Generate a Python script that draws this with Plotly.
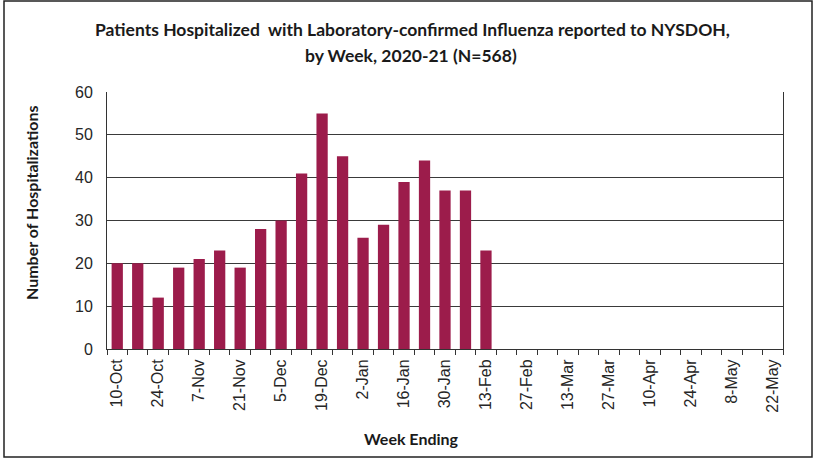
import plotly.graph_objects as go

weeks = ["10-Oct", "17-Oct", "24-Oct", "31-Oct", "7-Nov", "14-Nov", "21-Nov", "28-Nov",
         "5-Dec", "12-Dec", "19-Dec", "26-Dec", "2-Jan", "9-Jan", "16-Jan", "23-Jan",
         "30-Jan", "6-Feb", "13-Feb", "20-Feb", "27-Feb", "6-Mar", "13-Mar", "20-Mar",
         "27-Mar", "3-Apr", "10-Apr", "17-Apr", "24-Apr", "1-May", "8-May", "15-May", "22-May"]
hospitalizations = [20, 20, 12, 19, 21, 23, 19, 28, 30, 41, 55, 45, 26, 29, 39, 44, 37, 37, 23,
                    None, None, None, None, None, None, None, None, None, None, None, None, None, None]
tick_labels = [w if i % 2 == 0 else "" for i, w in enumerate(weeks)]

W, H = 817, 461
L, R, T, B = 107, 783, 92, 349  # plot area in px

def px_x(px):
    return (px - L) / (R - L)

def px_y(py):
    return (B - py) / (B - T)

X_TICK_FONT = dict(family="Liberation Sans, Arial, sans-serif", size=16, color="#262626")
Y_TICK_FONT = dict(family="Liberation Sans, Arial, sans-serif", size=16, color="#262626")

fig = go.Figure()
fig.add_trace(go.Bar(
    x=weeks, y=hospitalizations,
    marker=dict(color="#9C1C4B", line=dict(width=0)),
    hoverinfo="x+y",
))

fig.update_layout(
    width=W, height=H,
    margin=dict(l=L, r=W - R, t=T, b=H - B, pad=0),
    paper_bgcolor="white", plot_bgcolor="white",
    bargap=0.45,
    showlegend=False,
    font=dict(family="Liberation Sans", color="#262626"),
)
fig.update_xaxes(
    type="category",
    categoryorder="array", categoryarray=weeks,
    tickmode="array", tickvals=weeks, ticktext=tick_labels,
    tickson="boundaries", ticks="outside", ticklen=5, tickcolor="#333333", tickwidth=1,
    tickangle=-90, tickfont=X_TICK_FONT, ticklabelstandoff=3,
    showline=True, linecolor="#333333", linewidth=1,
    showgrid=False, range=[-0.5, len(weeks) - 0.5],
)
fig.update_yaxes(
    range=[0, 60], dtick=10, tick0=0,
    showgrid=True, gridcolor="#3a3a3a", gridwidth=1,
    showline=True, linecolor="#333333", linewidth=1, mirror=True,
    ticks="", ticklabelstandoff=10,
    tickfont=Y_TICK_FONT,
    zeroline=False,
)

annotations = [
    dict(text="<b>Patients Hospitalized  with Laboratory-confirmed Influenza reported to NYSDOH,</b>",
         x=px_x(412), y=px_y(30), xref="paper", yref="paper", showarrow=False,
         xanchor="center", yanchor="middle",
         font=dict(family="Lato", size=17.5, color="#1a1a1a")),
    dict(text="<b>by Week, 2020-21 (N=568)</b>",
         x=px_x(411), y=px_y(55), xref="paper", yref="paper", showarrow=False,
         xanchor="center", yanchor="middle",
         font=dict(family="Lato", size=17.5, color="#1a1a1a")),
    dict(text="<b>Number of Hospitalizations</b>",
         x=px_x(31), y=px_y(203), xref="paper", yref="paper", showarrow=False,
         xanchor="center", yanchor="middle", textangle=-90,
         font=dict(family="Lato", size=16, color="#1a1a1a")),
    dict(text="<b>Week Ending</b>",
         x=px_x(411), y=px_y(438), xref="paper", yref="paper", showarrow=False,
         xanchor="center", yanchor="middle",
         font=dict(family="Lato", size=16, color="#1a1a1a")),
]
fig.update_layout(annotations=annotations)

fig.add_shape(type="rect", xref="paper", yref="paper",
              x0=px_x(4), x1=px_x(812), y0=px_y(457), y1=px_y(1),
              line=dict(color="#222222", width=1.5), fillcolor="rgba(0,0,0,0)", layer="below")

fig.write_html(
    "out.html",
    config={"displayModeBar": False},
    post_script="document.body.style.margin='0';document.body.style.overflow='hidden';",
)
